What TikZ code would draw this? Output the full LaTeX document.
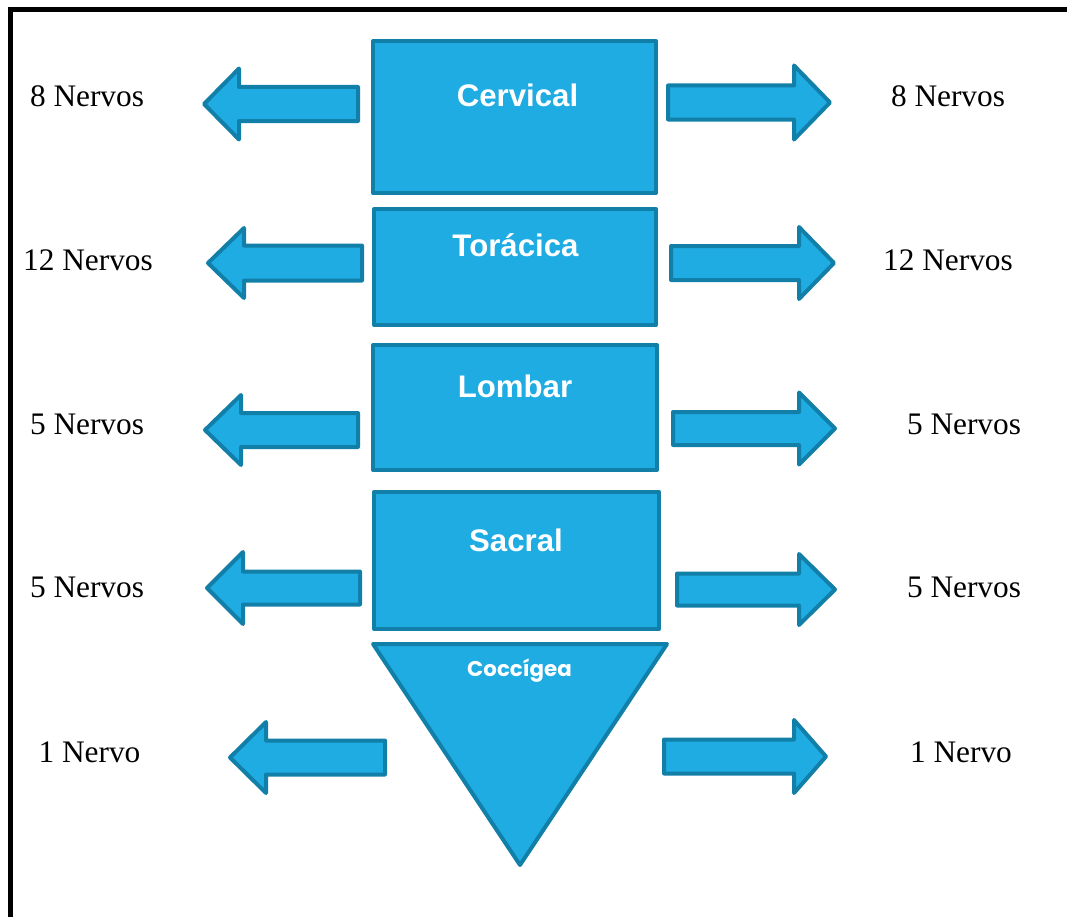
\documentclass[tikz,border=0pt]{standalone}
\usepackage{fontspec}
\setmainfont{Liberation Serif}
\newfontfamily\arialf{Liberation Sans}
\newfontfamily\poppf{Poppins}
\definecolor{fillblue}{HTML}{1EACE2}
\definecolor{strokeblue}{HTML}{127FA8}
% tip x, centre y, head-base x, head half-height, shaft half-height, shaft end x
\newcommand\blockarr[6]{%
  \draw[blk] (#1,#2) -- (#3,#2-#4) -- (#3,#2-#5) -- (#6,#2-#5) -- (#6,#2+#5)
    -- (#3,#2+#5) -- (#3,#2+#4) -- cycle;}
\begin{document}
\begin{tikzpicture}[x=0.75pt,y=-0.75pt,
  blk/.style={draw=strokeblue, fill=fillblue, line width=3pt, line join=round},
  lbl/.style={font=\arialf\bfseries\fontsize{23.4}{28}\selectfont, text=white, anchor=base, inner sep=0pt},
  coclbl/.style={font=\poppf\bfseries\fontsize{16}{19}\selectfont, text=white, anchor=base, inner sep=0pt},
  nrv/.style={font=\fontsize{23.5}{28}\selectfont, anchor=base, inner sep=0pt}]
\useasboundingbox (0,0) rectangle (1067,917);
% frame
\draw[line width=3.75pt] (10,925) -- (10,9.5) -- (1075,9.5);
% vertebral blocks
\draw[blk] (373,41) rectangle (656,193);
\draw[blk] (374,209) rectangle (656,325);
\draw[blk] (373,345) rectangle (657,470);
\draw[blk] (374,492) rectangle (659,629);
\draw[blk] (373,644) -- (667,644) -- (520,865) -- cycle;
\node[lbl] (cerv) at (517.5,107) {Cervical};
\node[lbl] (tora) at (515.5,256) {Torácica};
\node[lbl] (lomb) at (515,397) {Lombar};
\node[lbl] (sacr) at (516,551) {Sacral};
\node[coclbl] (cocc) at (519.5,676) {Coccígea};
% arrows
\blockarr{204}{104}{239}{35.5}{17}{358}
\blockarr{830}{102.5}{794}{37}{17}{668}
\blockarr{208}{263}{244}{35}{17.5}{362}
\blockarr{834}{263}{799}{36}{17}{671}
\blockarr{205}{430}{241}{35}{17}{358}
\blockarr{835}{428.5}{799}{36}{16.5}{673}
\blockarr{207}{588}{243}{36}{16.5}{360}
\blockarr{835}{589.5}{799}{35.5}{16}{677}
\blockarr{230}{757.5}{266}{35.5}{17}{385}
\blockarr{826}{756.5}{794}{36.5}{17}{664}
% nerve counts
\node[nrv] (l1) at (87,107) {8 Nervos};
\node[nrv] (r1) at (948,107) {8 Nervos};
\node[nrv] (l2) at (88,270) {12 Nervos};
\node[nrv] (r2) at (948,270) {12 Nervos};
\node[nrv] (l3) at (87,434) {5 Nervos};
\node[nrv] (r3) at (964,434) {5 Nervos};
\node[nrv] (l4) at (87,597) {5 Nervos};
\node[nrv] (r4) at (964,597) {5 Nervos};
\node[nrv] (l5) at (89.5,762) {1 Nervo};
\node[nrv] (r5) at (961,762) {1 Nervo};
\end{tikzpicture}
\end{document}
